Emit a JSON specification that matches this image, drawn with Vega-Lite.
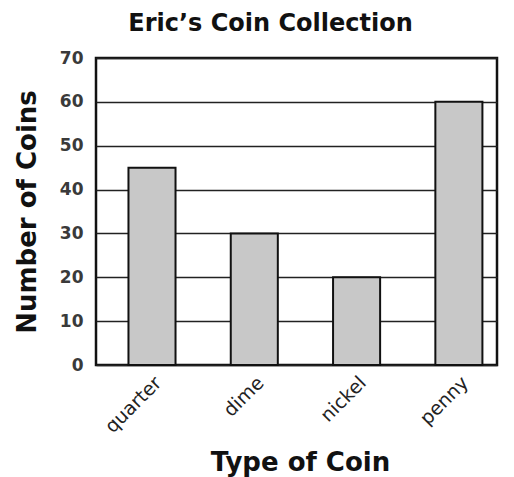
{
  "$schema": "https://vega.github.io/schema/vega-lite/v6.json",
  "width": 401,
  "height": 307,
  "autosize": "none",
  "padding": {"left": 96, "top": 58, "right": 17, "bottom": 112},
  "background": "white",
  "title": {
    "text": "Eric’s Coin Collection",
    "font": "DejaVu Sans",
    "fontSize": 24,
    "fontWeight": "bold",
    "color": "#111111",
    "offset": 13,
    "dx": -26
  },
  "data": {
    "values": [
      {"coin": "quarter", "count": 45},
      {"coin": "dime", "count": 30},
      {"coin": "nickel", "count": 20},
      {"coin": "penny", "count": 60}
    ]
  },
  "mark": {"type": "bar", "fill": "#c8c8c8", "stroke": "#111111", "strokeWidth": 2},
  "encoding": {
    "x": {
      "field": "coin",
      "type": "nominal",
      "sort": null,
      "scale": {"paddingInner": 0.54, "paddingOuter": 0.23, "align": 0.69},
      "axis": {
        "title": "Type of Coin",
        "titleFont": "DejaVu Sans",
        "titleFontSize": 26,
        "titleFontWeight": "bold",
        "titleColor": "#111111",
        "titleX": 204,
        "titleY": 105,
        "titleBaseline": "alphabetic",
        "labelAngle": -45,
        "labelFont": "DejaVu Sans",
        "labelFontSize": 19,
        "labelColor": "#222222",
        "labelPadding": 8,
        "ticks": false,
        "domain": false
      }
    },
    "y": {
      "field": "count",
      "type": "quantitative",
      "scale": {"domain": [0, 70]},
      "axis": {
        "title": "Number of Coins",
        "titleFont": "DejaVu Sans",
        "titleFontSize": 26,
        "titleFontWeight": "bold",
        "titleColor": "#111111",
        "titlePadding": 19,
        "values": [0, 10, 20, 30, 40, 50, 60, 70],
        "labelFont": "DejaVu Sans",
        "labelFontSize": 17,
        "labelFontWeight": "bold",
        "labelColor": "#3a3a3a",
        "labelPadding": 13,
        "ticks": false,
        "domain": false,
        "grid": true,
        "gridColor": "#222222",
        "gridWidth": 1.5,
        "gridOpacity": 1
      }
    }
  },
  "config": {
    "view": {"stroke": "#111111", "strokeWidth": 2.5}
  }
}
